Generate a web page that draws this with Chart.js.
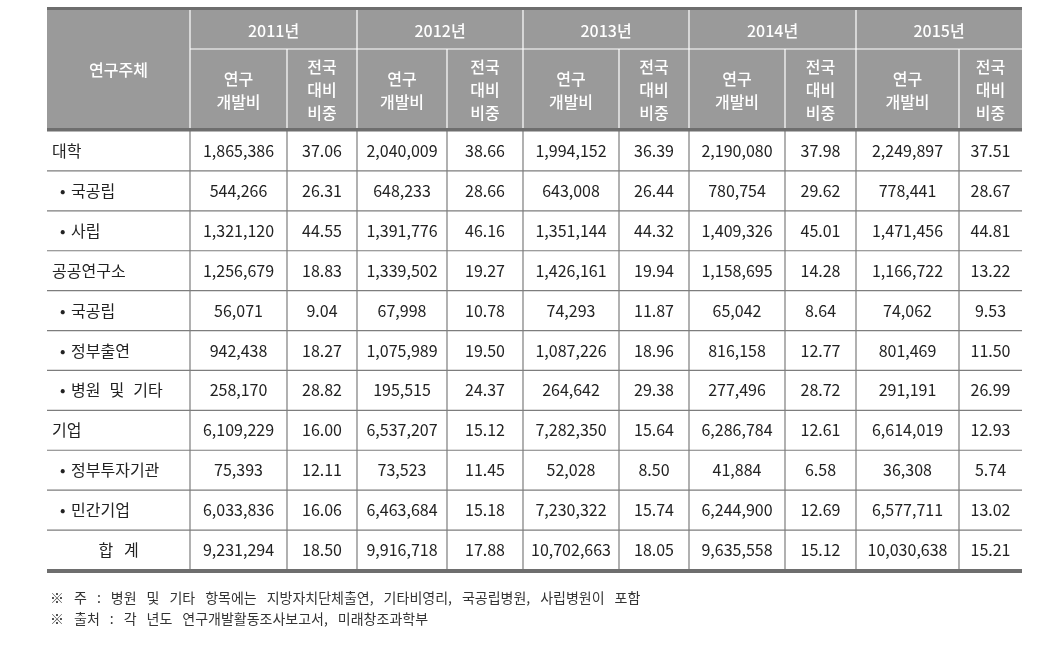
<!DOCTYPE html>
<html><head><meta charset="utf-8">
<script src="https://cdn.jsdelivr.net/npm/chart.js@4.4.1/dist/chart.umd.min.js"></script>
<style>html,body{margin:0;padding:0;background:#fff;}canvas{display:block;}</style>
</head><body>
<canvas id="c" width="1063" height="655"></canvas>
<script>
// ---- data ----
const categories = ['대학','• 국공립','• 사립','공공연구소','• 국공립','• 정부출연','• 병원 및 기타','기업','• 정부투자기관','• 민간기업','합 계'];
const years = ['2011년','2012년','2013년','2014년','2015년'];
const subHeaders = ['연구\n개발비','전국\n대비\n비중'];
const firstHeader = '연구주체';
const rd2011 = [1865386, 544266, 1321120, 1256679, 56071, 942438, 258170, 6109229, 75393, 6033836, 9231294];
const share2011 = [37.06, 26.31, 44.55, 18.83, 9.04, 18.27, 28.82, 16.00, 12.11, 16.06, 18.50];
const rd2012 = [2040009, 648233, 1391776, 1339502, 67998, 1075989, 195515, 6537207, 73523, 6463684, 9916718];
const share2012 = [38.66, 28.66, 46.16, 19.27, 10.78, 19.50, 24.37, 15.12, 11.45, 15.18, 17.88];
const rd2013 = [1994152, 643008, 1351144, 1426161, 74293, 1087226, 264642, 7282350, 52028, 7230322, 10702663];
const share2013 = [36.39, 26.44, 44.32, 19.94, 11.87, 18.96, 29.38, 15.64, 8.50, 15.74, 18.05];
const rd2014 = [2190080, 780754, 1409326, 1158695, 65042, 816158, 277496, 6286784, 41884, 6244900, 9635558];
const share2014 = [37.98, 29.62, 45.01, 14.28, 8.64, 12.77, 28.72, 12.61, 6.58, 12.69, 15.12];
const rd2015 = [2249897, 778441, 1471456, 1166722, 74062, 801469, 291191, 6614019, 36308, 6577711, 10030638];
const share2015 = [37.51, 28.67, 44.81, 13.22, 9.53, 11.50, 26.99, 12.93, 5.74, 13.02, 15.21];
const notes = ['※ 주 : 병원 및 기타 항목에는 지방자치단체출연, 기타비영리, 국공립병원, 사립병원이 포함',
               '※ 출처 : 각 년도 연구개발활동조사보고서, 미래창조과학부'];

// ---- layout (styles / sizes) ----
const colWidths = [143, 97, 70, 90, 76, 96, 70, 96, 71, 103, 63];
const FONT = '"Noto Sans CJK KR", "Noto Sans", sans-serif';
const HEADER_H = 121, YEAR_H = 39;

const valueCols = [rd2011, share2011, rd2012, share2012, rd2013, share2013, rd2014, share2014, rd2015, share2015];
const edges = [0];
colWidths.forEach(w => edges.push(edges[edges.length-1] + w));
const total = edges[edges.length-1];

function fmt(v, isShare){
  return isShare ? v.toFixed(2) : v.toLocaleString('en-US');
}
function spacedText(ctx, text, x, y, gap){
  const words = text.split(' ');
  let cx = x;
  words.forEach(w => {
    ctx.fillText(w, cx, y);
    cx += ctx.measureText(w).width + gap;
  });
}

const datasets = valueCols.map((arr, ci) => ({
  label: 'col' + ci,
  data: arr.map((v, ri) => ({x: (edges[ci+1] + edges[ci+2]) / 2, y: ri})),
  pointRadius: 0, pointHoverRadius: 0
}));
datasets.unshift({label:'labels', data: categories.map((c, ri) => ({x: (edges[0]+edges[1])/2, y: ri})), pointRadius:0, pointHoverRadius:0});

const tablePlugin = {
  id: 'table',
  afterDatasetsDraw(chart){
    const ctx = chart.ctx;
    const xs = chart.scales.x, ys = chart.scales.y;
    const ca = chart.chartArea;
    const px = edges.map(e => xs.getPixelForValue(e));
    const band = ys.getPixelForValue(1) - ys.getPixelForValue(0);
    const hTop = ca.top - HEADER_H, hMid = hTop + YEAR_H;
    ctx.save();
    // header background
    ctx.fillStyle = '#9a9a9a';
    ctx.fillRect(ca.left, hTop, ca.right - ca.left, HEADER_H);
    // header white lines
    ctx.strokeStyle = '#ffffff';
    ctx.lineWidth = 1.2;
    ctx.beginPath();
    ctx.moveTo(px[1], hMid); ctx.lineTo(ca.right, hMid);
    for (let i = 1; i < px.length - 1; i++){
      const isGroup = (i % 2 === 1);
      ctx.moveTo(px[i], isGroup ? hTop : hMid);
      ctx.lineTo(px[i], ca.top);
    }
    ctx.stroke();
    // body grid
    ctx.strokeStyle = '#7d7d7d';
    ctx.lineWidth = 1.2;
    ctx.beginPath();
    for (let r = 1; r < categories.length; r++){
      const y = ys.getPixelForValue(r) - band/2;
      ctx.moveTo(ca.left, y); ctx.lineTo(ca.right, y);
    }
    for (let i = 1; i < px.length - 1; i++){
      ctx.moveTo(px[i], ca.top); ctx.lineTo(px[i], ca.bottom);
    }
    ctx.stroke();
    // thick rules
    ctx.fillStyle = '#6e6e6e';
    ctx.fillRect(ca.left, hTop - 3, ca.right - ca.left, 3);
    ctx.fillRect(ca.left, ca.top - 3, ca.right - ca.left, 3.5);
    ctx.fillRect(ca.left, ca.bottom - 1, ca.right - ca.left, 4);

    // header text
    ctx.fillStyle = '#ffffff';
    ctx.textAlign = 'center';
    ctx.textBaseline = 'middle';
    ctx.font = '500 16px ' + FONT;
    ctx.fillText(firstHeader, (px[0]+px[1])/2, (hTop + ca.top)/2 - 1);
    years.forEach((yr, k) => {
      ctx.fillText(yr, (px[1+2*k] + px[3+2*k])/2, (hTop + hMid)/2 + 1);
      subHeaders.forEach((sh, j) => {
        const lines = sh.split('\n');
        const cx = (px[1+2*k+j] + px[2+2*k+j])/2;
        const cy = (hMid + ca.top)/2;
        const lh = 23;
        lines.forEach((ln, li) => {
          ctx.fillText(ln, cx, cy + (li - (lines.length-1)/2) * lh);
        });
      });
    });

    // body text
    ctx.fillStyle = '#222222';
    ctx.font = '16px ' + FONT;
    const labelMeta = chart.getDatasetMeta(0);
    categories.forEach((c, ri) => {
      const pt = labelMeta.data[ri];
      if (c.startsWith('•')){
        ctx.textAlign = 'left';
        ctx.fillText('•', px[0] + 13, pt.y);
        spacedText(ctx, c.slice(2), px[0] + 24, pt.y, 9);
      } else if (ri === categories.length - 1){
        ctx.textAlign = 'center';
        ctx.fillText(c.split(' ').join('   '), pt.x, pt.y);
      } else {
        ctx.textAlign = 'left';
        ctx.fillText(c, px[0] + 5, pt.y);
      }
    });
    ctx.textAlign = 'center';
    valueCols.forEach((arr, ci) => {
      const meta = chart.getDatasetMeta(ci + 1);
      arr.forEach((v, ri) => {
        const pt = meta.data[ri];
        ctx.fillText(fmt(v, ci % 2 === 1), pt.x, pt.y);
      });
    });

    // notes
    ctx.fillStyle = '#333333';
    ctx.textAlign = 'left';
    ctx.font = '14px ' + FONT;
    notes.forEach((n, i) => spacedText(ctx, n, ca.left + 3, ca.bottom + 28 + i * 21, 10));
    ctx.restore();
  }
};

new Chart(document.getElementById('c'), {
  type: 'scatter',
  data: { datasets },
  options: {
    responsive: false,
    animation: false,
    devicePixelRatio: 1,
    layout: { padding: { left: 47, right: 41, top: 131, bottom: 85 } },
    plugins: { legend: { display: false }, tooltip: { enabled: false } },
    scales: {
      x: { type: 'linear', min: 0, max: total, display: false },
      y: { type: 'category', labels: categories, offset: true, display: false }
    }
  },
  plugins: [tablePlugin]
});
</script>
</body></html>
